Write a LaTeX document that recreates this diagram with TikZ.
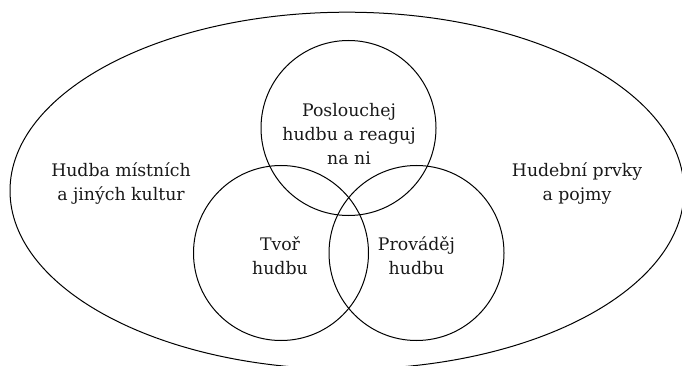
\documentclass[tikz,border=0pt]{standalone}
\usepackage{fontspec}
\setmainfont{DejaVu Serif}
\usetikzlibrary{shapes.geometric}
\begin{document}
\begin{tikzpicture}[x=1pt,y=-1pt,
  ring/.style={draw, line width=1pt, circle, minimum size=175pt, inner sep=0pt},
  field/.style={draw, line width=1pt, ellipse, minimum width=674pt, minimum height=357pt, inner sep=0pt},
  lbl/.style={align=center, font=\fontsize{17.3}{24}\selectfont, text=black!90, inner sep=0pt}]
  \useasboundingbox (0,0) rectangle (682,366);
  \clip (0,0) rectangle (682,366);
  % outer field and the three overlapping circles
  \node[field] (outer) at (347,190.7) {};
  \node[ring] (listen) at (348.5,128) {};
  \node[ring] (create) at (281,253) {};
  \node[ring] (perform) at (416.5,253) {};
  % labels
  \node[lbl] (tlisten) at (349,134) {Poslouchej\\hudbu a reaguj\\na ni};
  \node[lbl] (tcreate) at (280,256) {Tvoř\\hudbu};
  \node[lbl] (tperform) at (416.5,256) {Prováděj\\hudbu};
  \node[lbl] (tcult) at (121,184) {Hudba místních\\a jiných kultur};
  \node[lbl] (telem) at (577,184) {Hudební prvky\\a pojmy};
\end{tikzpicture}
\end{document}
